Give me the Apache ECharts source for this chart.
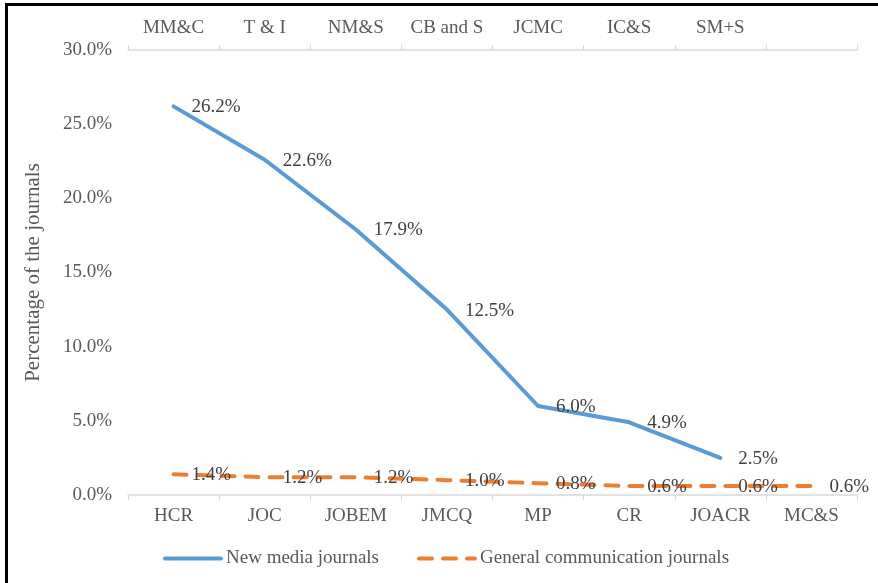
<!DOCTYPE html>
<html>
<head>
<meta charset="utf-8">
<script src="https://cdn.jsdelivr.net/npm/echarts@6/dist/echarts.min.js"></script>
<style>html,body{margin:0;padding:0;background:#fff}#c{width:878px;height:583px}</style>
</head>
<body>
<div id="c"></div>
<script>
var generalJournals = ['HCR', 'JOC', 'JOBEM', 'JMCQ', 'MP', 'CR', 'JOACR', 'MC&S'];
var newMediaJournals = ['MM&C', 'T & I', 'NM&S', 'CB and S', 'JCMC', 'IC&S', 'SM+S', ''];
var newMediaValues = [26.2, 22.6, 17.9, 12.5, 6.0, 4.9, 2.5];
var generalValues = [1.4, 1.2, 1.2, 1.0, 0.8, 0.6, 0.6, 0.6];
var yTicks = [0, 5, 10, 15, 20, 25, 30];

var font = 'Liberation Serif';
var chart = echarts.init(document.getElementById('c'), null, {renderer: 'canvas'});
function labelCfg() {
  return {
    show: true, position: 'right', distance: 18, offset: [0, 1],
    formatter: function (p) { return p.value.toFixed(1) + '%'; },
    fontFamily: font, fontSize: 19, color: '#404040'
  };
}
chart.setOption({
  animation: false,
  backgroundColor: '#fff',
  textStyle: {fontFamily: font},
  graphic: [
    {type: 'rect', shape: {x: 5, y: 3, width: 873, height: 3}, style: {fill: '#000'}},
    {type: 'rect', shape: {x: 5, y: 3, width: 3, height: 580}, style: {fill: '#000'}}
  ],
  grid: {left: 128, right: 21, top: 50, bottom: 88, containLabel: false},
  legend: {
    bottom: 10, left: 158,
    itemWidth: 56, itemHeight: 10, itemGap: 38,
    lineStyle: {width: 4},
    itemStyle: {opacity: 0},
    textStyle: {fontFamily: font, fontSize: 19, color: '#595959'},
    data: ['New media journals', 'General communication journals']
  },
  xAxis: [
    {
      type: 'category', position: 'bottom', data: generalJournals, boundaryGap: true,
      axisLine: {lineStyle: {color: '#D9D9D9', width: 1.5}},
      axisTick: {show: true, length: 5, lineStyle: {color: '#D9D9D9'}},
      axisLabel: {interval: 0, fontFamily: font, fontSize: 19, color: '#595959', margin: 12}
    },
    {
      type: 'category', position: 'top', data: newMediaJournals, boundaryGap: true,
      axisLine: {lineStyle: {color: '#D9D9D9', width: 1.5}},
      axisTick: {show: true, interval: 0, length: 5, lineStyle: {color: '#D9D9D9'}},
      axisLabel: {interval: 0, fontFamily: font, fontSize: 19, color: '#595959', margin: 12}
    }
  ],
  yAxis: {
    type: 'value', min: 0, max: 30, interval: 5,
    name: 'Percentage of the journals', nameLocation: 'middle', nameGap: 84,
    nameTextStyle: {fontFamily: font, fontSize: 21, color: '#595959'},
    axisLine: {show: false}, axisTick: {show: false}, splitLine: {show: false},
    axisLabel: {
      fontFamily: font, fontSize: 19, color: '#595959', margin: 16,
      formatter: function (v) { return v.toFixed(1) + '%'; }
    }
  },
  series: [
    {
      name: 'New media journals', type: 'line', xAxisIndex: 1,
      data: newMediaValues, symbol: 'circle', symbolSize: 0.1, showSymbol: true,
      lineStyle: {color: '#5B9BD5', width: 4, cap: 'round'},
      itemStyle: {color: '#5B9BD5'},
      label: labelCfg(), z: 2
    },
    {
      name: 'General communication journals', type: 'line', xAxisIndex: 0,
      data: generalValues, symbol: 'circle', symbolSize: 0.1, showSymbol: true,
      lineStyle: {color: '#ED7D31', width: 4, type: [13, 11], cap: 'round'},
      itemStyle: {color: '#ED7D31'},
      label: labelCfg(), z: 3
    }
  ]
});
</script>
</body>
</html>
